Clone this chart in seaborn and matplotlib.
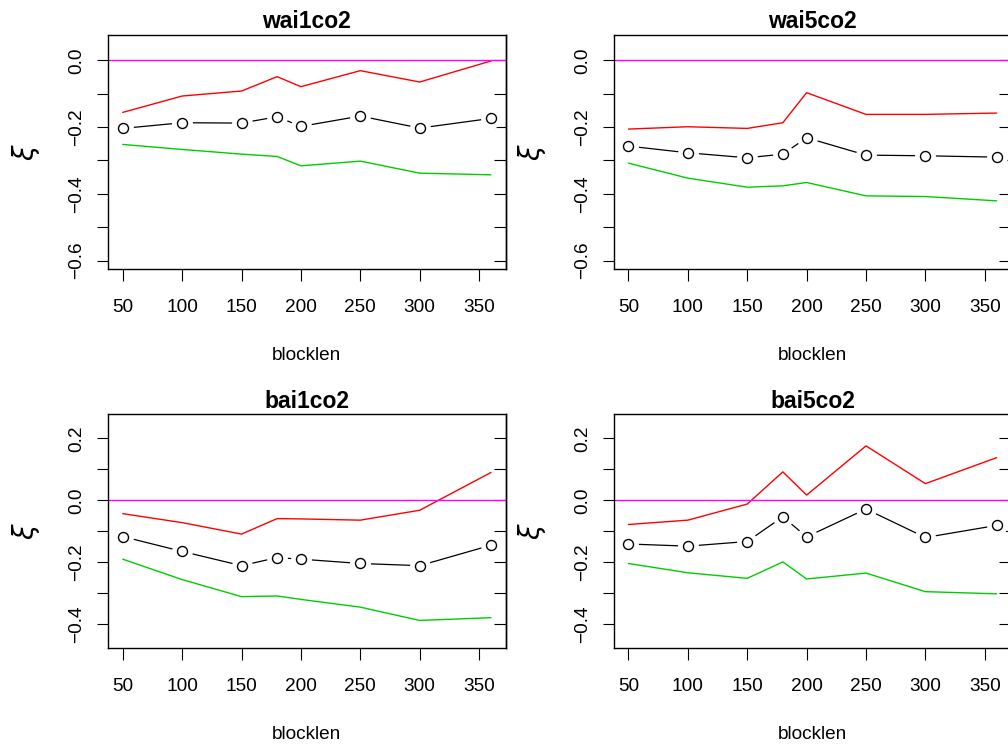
import matplotlib
matplotlib.use("Agg")
import matplotlib.pyplot as plt
import seaborn as sns

# Block lengths used for the fits
blocklen = [50, 100, 150, 180, 200, 250, 300, 360]

# Shape estimate (xi) and its lower / upper confidence bounds per series
wai1co2_est = [-0.204, -0.187, -0.188, -0.169, -0.198, -0.167, -0.203, -0.174]
wai1co2_lo = [-0.252, -0.267, -0.281, -0.288, -0.316, -0.302, -0.338, -0.343]
wai1co2_hi = [-0.156, -0.107, -0.092, -0.049, -0.079, -0.031, -0.065, -0.002]

wai5co2_est = [-0.257, -0.277, -0.292, -0.281, -0.232, -0.284, -0.286, -0.290]
wai5co2_lo = [-0.308, -0.353, -0.380, -0.376, -0.366, -0.406, -0.408, -0.421]
wai5co2_hi = [-0.206, -0.199, -0.204, -0.187, -0.097, -0.162, -0.162, -0.158]

bai1co2_est = [-0.117, -0.165, -0.211, -0.185, -0.190, -0.204, -0.211, -0.145]
bai1co2_lo = [-0.190, -0.256, -0.311, -0.309, -0.320, -0.345, -0.388, -0.379]
bai1co2_hi = [-0.043, -0.072, -0.109, -0.059, -0.060, -0.064, -0.032, 0.090]

bai5co2_est = [-0.141, -0.148, -0.133, -0.053, -0.118, -0.028, -0.120, -0.081]
bai5co2_lo = [-0.204, -0.234, -0.252, -0.199, -0.254, -0.235, -0.295, -0.302]
bai5co2_hi = [-0.078, -0.064, -0.012, 0.092, 0.017, 0.176, 0.054, 0.138]

titles = ["wai1co2", "wai5co2", "bai1co2", "bai5co2"]

# Axis ticks and labels
x_ticks = [50, 100, 150, 200, 250, 300, 350]
x_ticklabels = ["50", "100", "150", "200", "250", "300", "350"]
top_yticks = [-0.6, -0.5, -0.4, -0.3, -0.2, -0.1, 0.0]
top_ylabels = ["\u22120.6", "", "\u22120.4", "", "\u22120.2", "", "0.0"]
bot_yticks = [-0.4, -0.3, -0.2, -0.1, 0.0, 0.1, 0.2]
bot_ylabels = ["\u22120.4", "", "\u22120.2", "", "0.0", "", "0.2"]

sns.set_theme(style="white")
plt.rcParams["font.family"] = ["Liberation Sans", "DejaVu Sans"]
plt.rcParams["mathtext.fontset"] = "dejavusans"

W, H = 1008, 746
fig = plt.figure(figsize=(W / 100, H / 100), dpi=100)
fig.patch.set_facecolor("white")


def rect(left, top, right, bottom):
    return [left / W, 1 - bottom / H, (right - left) / W, (bottom - top) / H]


panel_w = 397.7
rects = [
    rect(108.0, 34.7, 108.0 + panel_w, 269.3),
    rect(613.7, 34.7, 613.7 + panel_w, 269.3),
    rect(108.0, 414.3, 108.0 + panel_w, 648.3),
    rect(613.7, 414.3, 613.7 + panel_w, 648.3),
]

series = [
    (wai1co2_est, wai1co2_lo, wai1co2_hi, top_yticks, top_ylabels, (-0.626, 0.0767)),
    (wai5co2_est, wai5co2_lo, wai5co2_hi, top_yticks, top_ylabels, (-0.626, 0.0767)),
    (bai1co2_est, bai1co2_lo, bai1co2_hi, bot_yticks, bot_ylabels, (-0.478, 0.278)),
    (bai5co2_est, bai5co2_lo, bai5co2_hi, bot_yticks, bot_ylabels, (-0.478, 0.278)),
]

fs = 13.7
for r, title, (est, lo, hi, yt, yl, ylim) in zip(rects, titles, series):
    ax = fig.add_axes(r)
    ax.set_facecolor("white")

    # point estimates joined by a line; a white disc under each open circle
    # leaves a gap between the line and the marker
    sns.lineplot(x=blocklen, y=est, color="black", linewidth=0.9, ax=ax, zorder=6)
    ax.plot(blocklen, est, linestyle="none", marker="o", markersize=15,
            markerfacecolor="white", markeredgecolor="white", markeredgewidth=0,
            zorder=7)
    ax.plot(blocklen, est, linestyle="none", marker="o", markersize=7.2,
            markerfacecolor="none", markeredgecolor="black", markeredgewidth=1.0,
            zorder=8)

    # confidence bounds and the zero reference
    sns.lineplot(x=blocklen, y=hi, color="#FF0000", linewidth=1.0, ax=ax, zorder=9)
    sns.lineplot(x=blocklen, y=lo, color="#00CD00", linewidth=1.0, ax=ax, zorder=9)
    ax.axhline(0.0, color="#FF00FF", linewidth=1.0, zorder=10)

    ax.set_xlim(37.6, 372.4)
    ax.set_ylim(*ylim)

    ax.set_xticks(x_ticks)
    ax.set_xticklabels(x_ticklabels)
    ax.set_yticks(yt)
    ax.set_yticklabels(yl)
    for lab in ax.get_yticklabels():
        lab.set_verticalalignment("center")

    ax.tick_params(axis="x", which="both", bottom=True, top=False, direction="out",
                   length=8.6, width=0.8, color="black", pad=12.5, labelsize=fs,
                   labelcolor="black")
    ax.tick_params(axis="y", which="both", left=True, right=False, direction="out",
                   length=8.2, width=0.8, color="black", pad=8, labelsize=fs,
                   labelcolor="black", labelrotation=90)

    sec = ax.secondary_yaxis("right")
    sec.set_yticks(yt)
    sec.tick_params(axis="y", right=True, left=False, direction="in", length=8.6,
                    width=0.8, color="black", labelright=False)
    sec.spines["right"].set_color("black")
    sec.spines["right"].set_linewidth(1.0)

    for sp in ax.spines.values():
        sp.set_visible(True)
        sp.set_color("black")
        sp.set_linewidth(1.0)
        sp.set_zorder(12)

    ax.set_title(title, fontsize=16.5, fontweight="bold", pad=4.5, color="black")
    ax.set_xlabel("blocklen", fontsize=fs, color="black")
    ax.xaxis.set_label_coords(0.5, -0.387)
    ax.xaxis.label.set_verticalalignment("baseline")
    ax.set_ylabel(r"$\xi$", fontsize=20, color="black", rotation=90)
    ax.yaxis.set_label_coords(-0.206, 0.5)
    ax.yaxis.label.set_verticalalignment("center")
    ax.yaxis.label.set_horizontalalignment("center")

fig.savefig("out.png", dpi=100, facecolor="white")
